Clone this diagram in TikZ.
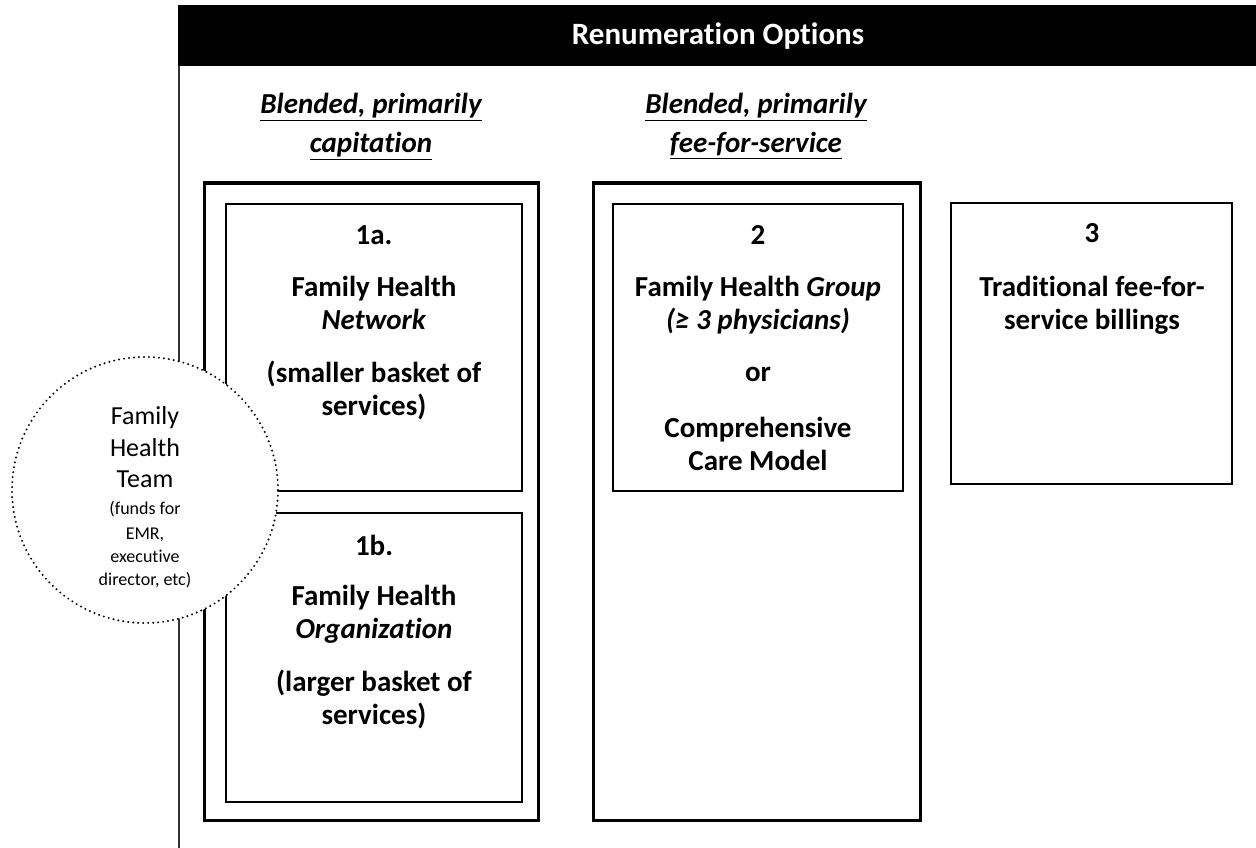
\documentclass[tikz,border=0pt]{standalone}
\usepackage{fontspec}
\setmainfont{Carlito}[Ligatures=NoCommon]
\usetikzlibrary{positioning}
\tikzstyle{outerbox} = [line width=3pt]
\tikzstyle{innerbox} = [line width=1.7pt]
\tikzstyle{txt} = [anchor=base, inner sep=0pt, font=\fontsize{29}{33}\selectfont\bfseries]
\tikzstyle{subtitle} = [anchor=base, inner sep=0pt, font=\fontsize{29}{36}\selectfont\bfseries\itshape]
\tikzstyle{fhttxt} = [anchor=base, inner sep=0pt, font=\fontsize{26}{31}\selectfont]
\tikzstyle{fhtsmall} = [anchor=base, inner sep=0pt, font=\fontsize{18}{23}\selectfont]
\tikzstyle{fhtcircle} = [circle, draw, fill=white, line width=2.2pt, line cap=round, dash pattern=on 0pt off 5pt, minimum size=266pt, inner sep=0pt]

\begin{document}
\begin{tikzpicture}[x=1pt,y=-1pt]
\useasboundingbox (0,0) rectangle (1256,848);

% header bar and frame
\fill (178,5) coordinate (h_1) rectangle (1256,66) coordinate (h_2);
\node[txt, text=white, font=\fontsize{31}{33}\selectfont\bfseries] (title) at (718,45) {Renumeration Options};
\draw[line width=1.4pt, black!80] (179,66) coordinate (f_1) -- (179,848) coordinate (f_2);

% column headings
\node[subtitle] (capit_1) at (371,114) {\underline{Blended, primarily}};
\node[subtitle] (capit_2) at (371,153) {\underline{capitation}};
\node[subtitle] (ffs_1) at (756,114) {\underline{Blended, primarily}};
\node[subtitle] (ffs_2) at (756,153) {\underline{fee-for-service}};

% boxes
\draw[outerbox] (204,183) coordinate (o1_1) rectangle (538,820) coordinate (o1_2);
\draw[innerbox] (226,204) coordinate (a_1) rectangle (522,491) coordinate (a_2);
\draw[innerbox] (226,513) coordinate (b_1) rectangle (522,802) coordinate (b_2);
\draw[outerbox] (593,183) coordinate (o2_1) rectangle (920,820) coordinate (o2_2);
\draw[innerbox] (613,204) coordinate (c_1) rectangle (903,491) coordinate (c_2);
\draw[line width=2pt] (951,203) coordinate (d_1) rectangle (1232,484) coordinate (d_2);

% 1a
\node[txt] (n1a) at (374,244) {1a.};
\node[txt] (fhn_1) at (374,296) {Family Health};
\node[txt] (fhn_2) at (374,329) {\textit{Network}};
\node[txt] (small_1) at (374,382) {(smaller basket of};
\node[txt] (small_2) at (374,415) {services)};

% 1b
\node[txt] (n1b) at (374,555) {1b.};
\node[txt] (fho_1) at (374,605) {Family Health};
\node[txt] (fho_2) at (374,638) {\textit{Organization}};
\node[txt] (large_1) at (374,691) {(larger basket of};
\node[txt] (large_2) at (374,724) {services)};

% 2
\node[txt] (n2) at (758,244) {2};
\node[txt] (fhg_1) at (758,296) {Family Health \textit{Group}};
\node[txt] (fhg_2) at (758,329) {\textit{(≥ 3 physicians)}};
\node[txt] (or) at (758,381) {or};
\node[txt] (ccm_1) at (758,437) {Comprehensive};
\node[txt] (ccm_2) at (758,470) {Care Model};

% 3
\node[txt] (n3) at (1092,242) {3};
\node[txt] (tff_1) at (1092,296) {Traditional fee-for-};
\node[txt] (tff_2) at (1092,329) {service billings};

% family health team
\node[fhtcircle] (fht) at (145,490) {};
\node[fhttxt] (fht_1) at (145,424) {Family};
\node[fhttxt] (fht_2) at (145,456) {Health};
\node[fhttxt] (fht_3) at (145,487) {Team};
\node[fhtsmall] (funds_1) at (145,514) {(funds for};
\node[fhtsmall] (funds_2) at (145,539) {EMR,};
\node[fhtsmall] (funds_3) at (145,562) {executive};
\node[fhtsmall] (funds_4) at (145,585) {director, etc)};

\end{tikzpicture}
\end{document}
